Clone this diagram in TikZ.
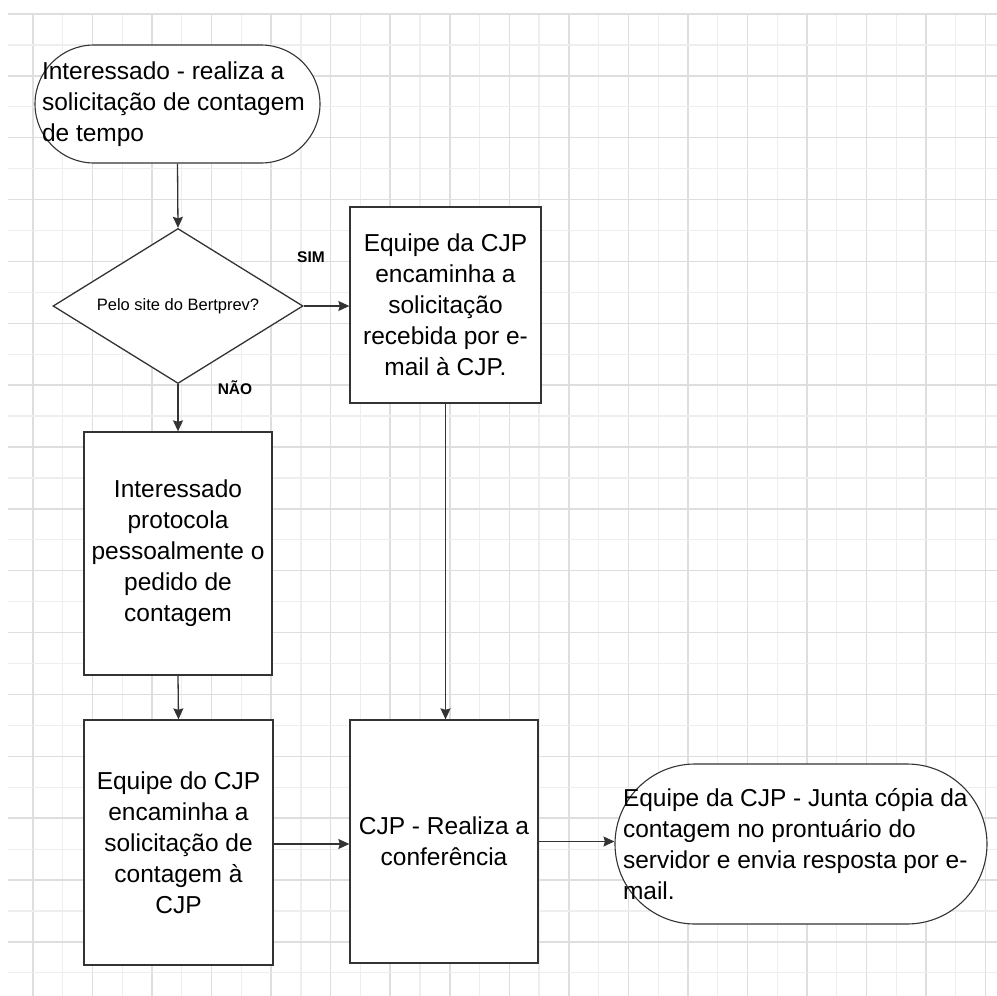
\documentclass[tikz,border=0pt]{standalone}
\usepackage{fontspec}
\setmainfont{Liberation Sans}
\usetikzlibrary{shapes.geometric,arrows.meta}
\definecolor{gridmajor}{RGB}{222,222,222}
\definecolor{gridminor}{RGB}{238,238,238}
\definecolor{edge}{RGB}{51,51,51}
\begin{document}
\begin{tikzpicture}[x=1pt,y=-1pt,
  every node/.style={font=\fontsize{24.5}{31}\selectfont, text=black},
  proc/.style={draw=edge, line width=1.3pt, fill=white, rectangle, align=center, inner sep=0pt},
  term/.style={draw=edge, line width=1.1pt, fill=white, rectangle, align=flush left, inner ysep=0pt},
  decision/.style={draw=edge, line width=1.3pt, fill=white, diamond, inner sep=0pt,
    minimum width=250pt, minimum height=155pt},
  qtext/.style={font=\fontsize{16.5}{20}\selectfont},
  tag/.style={font=\fontsize{15.5}{18}\selectfont\bfseries},
  flow/.style={draw=edge, line width=1.3pt, -{Stealth[length=11pt,width=10pt,inset=1.5pt]}}]
\useasboundingbox (0,0) rectangle (997,996);
\fill[white] (0,0) rectangle (997,996);
% background grid
\foreach \k in {0,...,32}{
  \pgfmathsetmacro{\gx}{33+29.77*\k}
  \ifodd\k
    \draw[gridminor, line width=1.2pt] (\gx,14) -- (\gx,996);
  \else
    \draw[gridmajor, line width=1.5pt] (\gx,14) -- (\gx,996);
  \fi
}
\foreach \k in {0,...,31}{
  \pgfmathsetmacro{\gy}{14+30.93*\k}
  \ifodd\k
    \draw[gridminor, line width=1.2pt] (8,\gy) -- (997,\gy);
  \else
    \draw[gridmajor, line width=1.5pt] (8,\gy) -- (997,\gy);
  \fi
}
% start and end terminators
\node[term, rounded corners=59pt, inner xsep=7pt, text width=271pt, minimum height=118pt]
  (start) at (177.5,104) {Interessado - realiza a\\solicitação de contagem\\de tempo};
\node[term, rounded corners=80pt, inner xsep=8pt, text width=356pt, minimum height=160pt]
  (finish) at (801,844) {Equipe da CJP - Junta cópia da\\contagem no prontuário do\\servidor e envia resposta por e-\\mail.};
% decision
\node[decision, label={[qtext]center:Pelo site do Bertprev?}] (dec) at (178,306) {};
\node[tag] (sim) at (311,257) {SIM};
\node[tag] (nao) at (235,388) {NÃO};
% process boxes
\node[proc, minimum width=191pt, minimum height=196pt] (email) at (445.5,305)
  {Equipe da CJP\\encaminha a\\solicitação\\recebida por e-\\mail à CJP.};
\node[proc, minimum width=188pt, minimum height=243pt] (proto) at (178,553.5)
  {Interessado\\protocola\\pessoalmente o\\pedido de\\contagem};
\node[proc, minimum width=189pt, minimum height=245pt] (fwd) at (178.5,842.5)
  {Equipe do CJP\\encaminha a\\solicitação de\\contagem à\\CJP};
\node[proc, minimum width=188pt, minimum height=243pt] (check) at (444,841.5)
  {CJP - Realiza a\\conferência};
% connectors
\draw[flow] (start.south) -- (dec.north);
\draw[flow] (dec.east) -- (dec.east -| email.west);
\draw[flow] (dec.south) -- (proto.north);
\draw[flow] (proto.south) -- (fwd.north);
\draw[flow] (email.south) -- (email.south |- check.north);
\draw[flow] (fwd.east |- 0,844) -- (check.west |- 0,844);
\draw[flow] (check.east) -- (check.east -| finish.west);
\end{tikzpicture}
\end{document}
